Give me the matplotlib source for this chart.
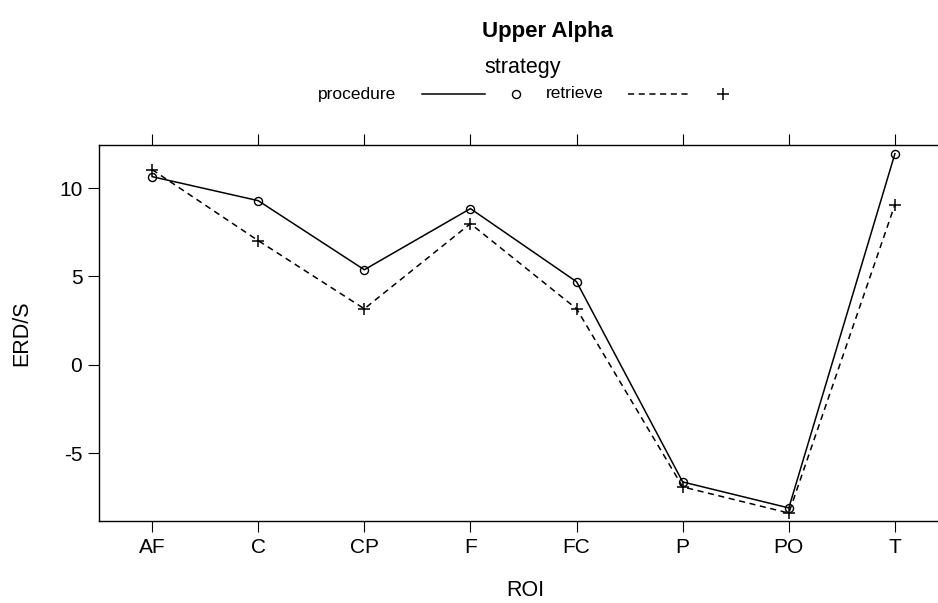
import matplotlib
matplotlib.use("Agg")
import matplotlib.pyplot as plt
from matplotlib.lines import Line2D

plt.rcParams['font.family'] = ['Liberation Sans', 'DejaVu Sans']

rois = ["AF", "C", "CP", "F", "FC", "P", "PO", "T"]
procedure = [10.65, 9.29, 5.38, 8.84, 4.70, -6.63, -8.10, 11.95]
retrieve = [11.05, 7.03, 3.17, 7.99, 3.17, -6.91, -8.39, 9.07]

W, H = 938, 603
fig = plt.figure(figsize=(W / 100, H / 100), dpi=100)
ax = fig.add_axes([99 / W, 1 - 521 / H, (948 - 99) / W, (521 - 145) / H])

x = list(range(1, len(rois) + 1))
ax.plot(x, procedure, color="black", lw=1.1, ls="-", marker="o", ms=5.8,
        mfc="none", mec="black", mew=1)
ax.plot(x, retrieve, color="black", lw=1.1, ls=(0, (4, 3)), marker="+", ms=9,
        mec="black", mew=1.1)

ax.set_xlim(0.5, len(rois) + 0.5)
ax.set_ylim(-8.84, 12.44)
ax.set_xticks(x)
ax.set_xticklabels(rois, fontsize=15)
ax.set_yticks([-5, 0, 5, 10])
ax.set_yticklabels(["-5", "0", "5", "10"], fontsize=15)
ax.tick_params(axis="x", which="both", direction="out", length=8, top=True,
               bottom=True, labeltop=False, pad=4)
ax.tick_params(axis="y", direction="out", length=8, left=True, right=False, pad=4)
for s in ax.spines.values():
    s.set_linewidth(1)
ax.set_xlabel("ROI", fontsize=15.5)
ax.set_ylabel("ERD/S", fontsize=15.5)
ax.xaxis.set_label_coords(525 / W, 1 - 590 / H, transform=fig.transFigure)
ax.yaxis.set_label_coords(22 / W, 1 - 333 / H, transform=fig.transFigure)
ax.xaxis.label.set_va("center")
ax.yaxis.label.set_va("center")

fig.text(548 / W, 1 - 32 / H, "Upper Alpha", ha="center", va="center",
         fontsize=16, fontweight="bold")
fig.text(523 / W, 1 - 67 / H, "strategy", ha="center", va="center", fontsize=15.5)
ly = 1 - 94 / H
fig.text(357 / W, ly, "procedure", ha="center", va="center", fontsize=12.5)
fig.add_artist(Line2D([422 / W, 485 / W], [ly, ly], color="black", lw=1.1,
                      transform=fig.transFigure))
fig.add_artist(Line2D([516 / W], [ly], marker="o", ms=5.8, mfc="none",
                      mec="black", mew=1, transform=fig.transFigure))
fig.text(575 / W, ly, "retrieve", ha="center", va="center", fontsize=12.5)
fig.add_artist(Line2D([628 / W, 690 / W], [ly, ly], color="black", lw=1.1,
                      ls=(0, (4, 3)), transform=fig.transFigure))
fig.add_artist(Line2D([723 / W], [ly], marker="+", ms=9,
                      mec="black", mew=1.1, transform=fig.transFigure))

fig.savefig("out.png", dpi=100)
